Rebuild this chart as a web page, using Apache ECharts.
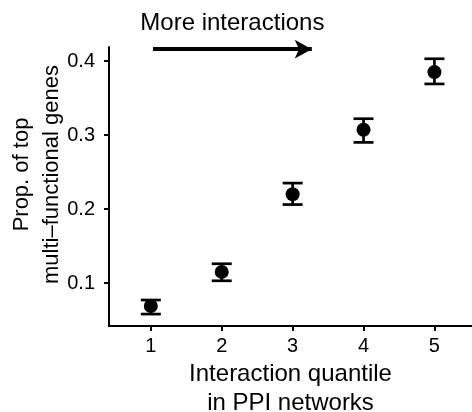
<!DOCTYPE html>
<html>
<head>
<meta charset="utf-8">
<script src="https://cdn.jsdelivr.net/npm/echarts@6/dist/echarts.min.js"></script>
<style>
  html, body { margin: 0; padding: 0; background: #fff; }
  #chart { width: 472px; height: 412px; }
</style>
</head>
<body>
<div id="chart"></div>
<script>
// Proportion of top multi-functional genes per interaction quantile (mean with error range)
const quantiles = [1, 2, 3, 4, 5];
const propMean  = [0.069, 0.115, 0.220, 0.307, 0.385];
const propLower = [0.058, 0.103, 0.206, 0.290, 0.369];
const propUpper = [0.077, 0.126, 0.235, 0.322, 0.403];
const yTicks = [0.1, 0.2, 0.3, 0.4];
const xTicks = [1, 2, 3, 4, 5];

const FONT = 'Liberation Sans, Arial, Helvetica, sans-serif';

const chart = echarts.init(document.getElementById('chart'), null, { renderer: 'canvas' });

const pointData = quantiles.map((q, i) => [q, propMean[i]]);
const barData = quantiles.map((q, i) => [q, propLower[i], propUpper[i]]);

function renderErrorBar(params, api) {
  const x = api.value(0);
  const lo = api.coord([x, api.value(1)]);
  const hi = api.coord([x, api.value(2)]);
  const half = 10;
  const style = { stroke: '#000', lineWidth: 2.7, fill: null };
  return {
    type: 'group',
    children: [
      { type: 'line', shape: { x1: lo[0], y1: lo[1], x2: hi[0], y2: hi[1] }, style },
      { type: 'line', shape: { x1: lo[0] - half, y1: lo[1], x2: lo[0] + half, y2: lo[1] }, style },
      { type: 'line', shape: { x1: hi[0] - half, y1: hi[1], x2: hi[0] + half, y2: hi[1] }, style }
    ]
  };
}

chart.setOption({
  animation: false,
  backgroundColor: '#fff',
  grid: { left: 109, right: 0, top: 47, bottom: 86, containLabel: false, outerBoundsMode: 'none' },
  xAxis: {
    type: 'value',
    min: 0.41,
    max: 5.53,
    name: 'Interaction quantile\nin PPI networks',
    nameLocation: 'middle',
    nameGap: 34,
    nameMoveOverlap: false,
    nameTextStyle: { fontFamily: FONT, fontSize: 24, color: '#000', lineHeight: 29 },
    axisLine: { show: true, onZero: false, lineStyle: { color: '#000', width: 2 } },
    axisTick: { show: true, length: 5, lineStyle: { color: '#000', width: 2 }, customValues: xTicks },
    axisLabel: { show: true, margin: 10, fontFamily: FONT, fontSize: 20, color: '#000', customValues: xTicks },
    splitLine: { show: false }
  },
  yAxis: {
    type: 'value',
    min: 0.0419,
    max: 0.4189,
    name: 'Prop. of top\nmulti\u2013functional genes',
    nameLocation: 'middle',
    nameGap: 42,
    nameMoveOverlap: false,
    nameTextStyle: { fontFamily: FONT, fontSize: 22, color: '#000', lineHeight: 30, padding: [0, 0, 0, 24] },
    axisLine: { show: true, onZero: false, lineStyle: { color: '#000', width: 2 } },
    axisTick: { show: true, length: 5, lineStyle: { color: '#000', width: 2 }, customValues: yTicks },
    axisLabel: {
      show: true, margin: 14, fontFamily: FONT, fontSize: 20, color: '#000',
      customValues: yTicks, formatter: v => v.toFixed(1)
    },
    splitLine: { show: false }
  },
  series: [
    {
      type: 'custom',
      renderItem: renderErrorBar,
      data: barData,
      encode: { x: 0, y: [1, 2] },
      z: 2
    },
    {
      type: 'scatter',
      data: pointData,
      symbol: 'circle',
      symbolSize: 14,
      itemStyle: { color: '#000', opacity: 1 },
      z: 3,
      markLine: {
        silent: true,
        symbol: ['none', 'arrow'],
        symbolSize: [14, 17],
        lineStyle: { color: '#000', width: 4, type: 'solid' },
        label: {
          show: true,
          position: 'middle',
          formatter: 'More interactions',
          distance: 14,
          fontFamily: FONT,
          fontSize: 24,
          color: '#000'
        },
        data: [[{ coord: [1.03, 0.416] }, { coord: [3.27, 0.416] }]]
      }
    }
  ]
});
</script>
</body>
</html>
